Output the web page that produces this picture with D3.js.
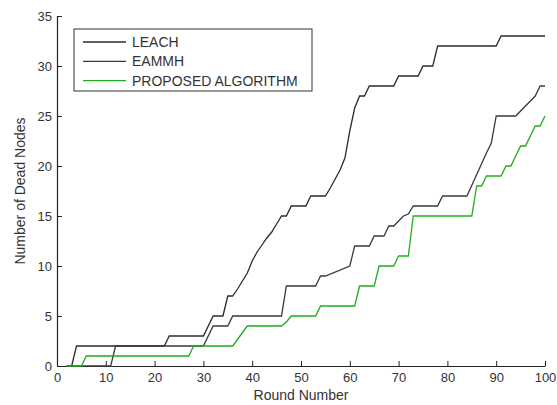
<!DOCTYPE html>
<html><head><meta charset="utf-8">
<script src="https://cdn.jsdelivr.net/npm/d3@7"></script>
<style>body{margin:0;background:#fff}svg{display:block;font-family:"Liberation Sans",Arial,sans-serif}</style>
</head><body>
<svg id="c" width="557" height="405"></svg>
<script>
const seriesNames = ["LEACH", "EAMMH", "PROPOSED ALGORITHM"];
const leachRounds = [2,3,4,22,23,30,32,34,35,36,37,38,39,40,41,42,43,44,45,46,47,48,51,52,55,56,57,58,59,60,61,62,63,64,69,70,74,75,77,78,90,91,100];
const leachDead   = [0,0,2,2,3,3,5,5,7,7,7.7,8.5,9.3,10.5,11.4,12.1,12.8,13.4,14.2,15,15,16,16,17,17,17.8,18.7,19.6,20.8,23.5,25.8,27,27,28,28,29,29,30,30,32,32,33,33];
const eammhRounds = [2,11,12,30,32,35,36,46,47,53,54,55,60,61,64,65,67,68,69,71,72,73,78,79,84,88,89,90,94,98,99,100];
const eammhDead   = [0,0,2,2,4,4,5,5,8,8,9,9,10,12,12,13,13,14,14,15,15.2,16,16,17,17,21.3,22.3,25,25,27,28,28];
const propRounds  = [2,5,6,27,28,36,39,46,47,48,53,54,61,62,65,66,69,70,72,73,85,86,87,88,91,92,93,95,96,98,99,100];
const propDead    = [0,0,1,1,2,2,4,4,4.4,5,5,6,6,8,8,10,10,11,11,15,15,18,18,19,19,20,20,22,22,24,24,25];
const xTicks = [0,10,20,30,40,50,60,70,80,90,100];
const yTicks = [0,5,10,15,20,25,30,35];
const lineColors = ["#2b2b2b", "#3a3a3a", "#1fae1f"];

const svg = d3.select("#c");
const x = d3.scaleLinear().domain([0,100]).range([57,545]);
const y = d3.scaleLinear().domain([0,35]).range([366,16]);

const series = [
  {name: seriesNames[0], r: leachRounds, v: leachDead, c: lineColors[0]},
  {name: seriesNames[1], r: eammhRounds, v: eammhDead, c: lineColors[1]},
  {name: seriesNames[2], r: propRounds, v: propDead, c: lineColors[2]}
];
const line = d3.line().x(d => x(d[0])).y(d => y(d[1]));

// axes
const xa = svg.append("g").attr("transform","translate(0,366)")
  .call(d3.axisBottom(x).tickValues(xTicks).tickSizeInner(-5).tickSizeOuter(0).tickPadding(7));
const ya = svg.append("g").attr("transform","translate(57,0)")
  .call(d3.axisLeft(y).tickValues(yTicks).tickSizeInner(-5).tickSizeOuter(0).tickPadding(5));
[xa, ya].forEach(g => {
  g.select(".domain").attr("stroke","#222").attr("stroke-width",1.2);
  g.selectAll(".tick line").attr("stroke","#222");
  g.selectAll(".tick text").attr("font-size",13).attr("fill","#333").attr("font-family","'Liberation Sans',Arial,sans-serif");
});

series.forEach(s => {
  svg.append("path").datum(s.r.map((r,i)=>[r, s.v[i]]))
    .attr("d", line).attr("fill","none").attr("stroke", s.c).attr("stroke-width",1.3);
});

// labels
svg.append("text").attr("x",301).attr("y",400).attr("text-anchor","middle")
  .attr("font-size",14).attr("fill","#333").text("Round Number");
svg.append("text").attr("transform","translate(25,191) rotate(-90)").attr("text-anchor","middle")
  .attr("font-size",14).attr("fill","#333").text("Number of Dead Nodes");

// legend
const lg = svg.append("g");
lg.append("rect").attr("x",74).attr("y",29).attr("width",238).attr("height",62)
  .attr("fill","#fff").attr("stroke","#333").attr("stroke-width",1);
series.forEach((s,i) => {
  const yy = 42 + i*19.3;
  lg.append("line").attr("x1",83).attr("x2",126).attr("y1",yy).attr("y2",yy)
    .attr("stroke", s.c).attr("stroke-width",1.3);
  lg.append("text").attr("x",132).attr("y",yy+5).attr("font-size",14).attr("fill","#333").text(s.name);
});
</script>
</body></html>
